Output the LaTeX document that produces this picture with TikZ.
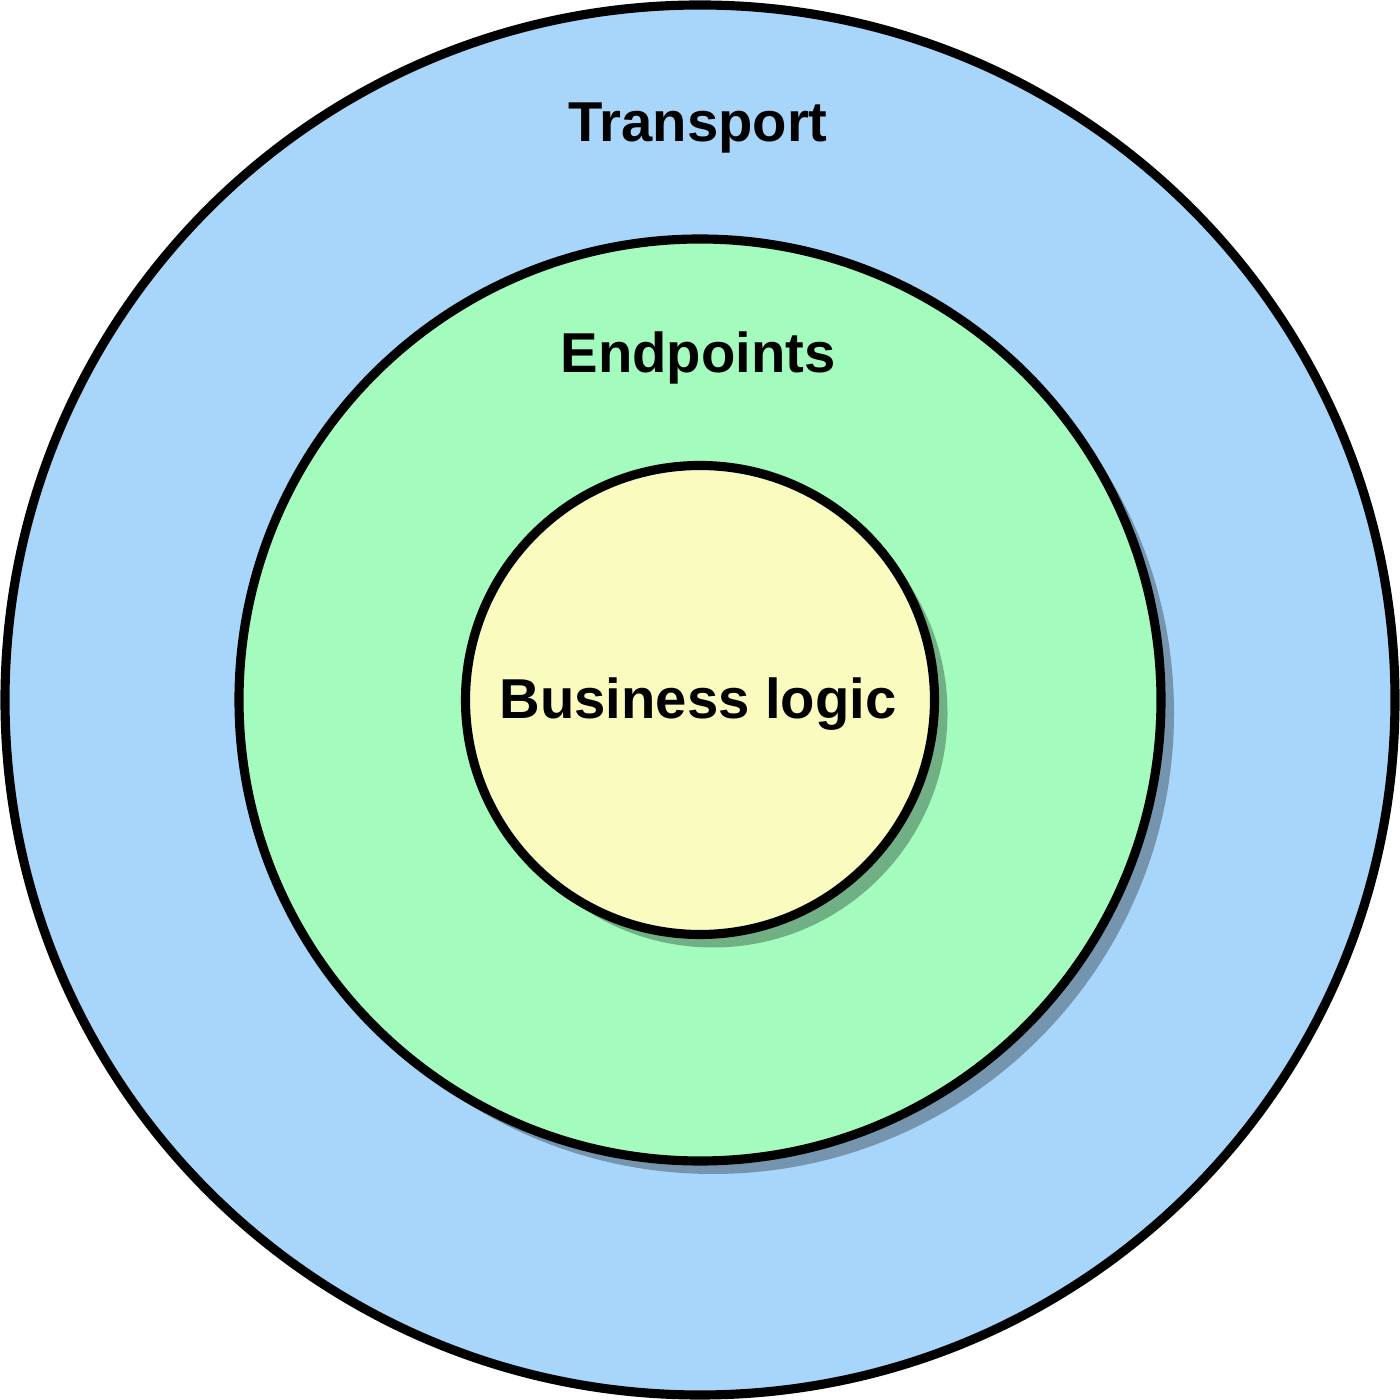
\documentclass[tikz,border=0pt]{standalone}
\usepackage{fontspec}
\setmainfont{Liberation Sans}
\usetikzlibrary{shadows}
\definecolor{transportblue}{HTML}{A8D5FA}
\definecolor{endpointgreen}{HTML}{A3FBBE}
\definecolor{logicyellow}{HTML}{FAFBBE}
\tikzset{
	ring/.style={circle, draw=black, line width=2.6pt, inner sep=0pt},
	ringshadow/.style={drop shadow={shadow xshift=0.13cm, shadow yshift=-0.13cm, opacity=0.3, fill=black}},
	label text/.style={font=\fontsize{16}{19}\selectfont\bfseries}
}

\begin{document}
\begin{tikzpicture}
	\useasboundingbox (0,0) rectangle (14,14);

	% the three layers
	\node[ring, fill=transportblue, minimum size=13.9cm] (transport) at (7,7) {};
	\node[ring, ringshadow, fill=endpointgreen, minimum size=9.22cm] (endpoints) at (7,7) {};
	\node[ring, ringshadow, fill=logicyellow, minimum size=4.69cm] (logic) at (7,7) {};

	% layer names
	\node[label text] (transportname) at (6.98,12.72) {Transport};
	\node[label text] (endpointsname) at (6.98,10.42) {Endpoints};
	\node[label text] (logicname)     at (6.98,6.96)  {Business logic};
\end{tikzpicture}
\end{document}
